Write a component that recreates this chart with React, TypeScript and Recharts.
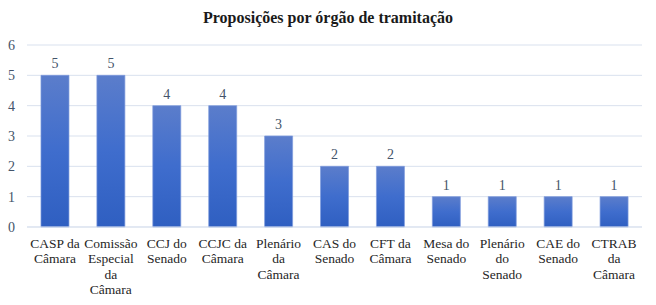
import React from "react";
import { BarChart, Bar, XAxis, YAxis, CartesianGrid, LabelList } from "recharts";

const categories = [
  "CASP da Câmara",
  "Comissão Especial da Câmara",
  "CCJ do Senado",
  "CCJC da Câmara",
  "Plenário da Câmara",
  "CAS do Senado",
  "CFT da Câmara",
  "Mesa do Senado",
  "Plenário do Senado",
  "CAE do Senado",
  "CTRAB da Câmara",
];
const tickLines = [
  ["CASP da", "Câmara"],
  ["Comissão", "Especial", "da", "Câmara"],
  ["CCJ do", "Senado"],
  ["CCJC da", "Câmara"],
  ["Plenário", "da", "Câmara"],
  ["CAS do", "Senado"],
  ["CFT da", "Câmara"],
  ["Mesa do", "Senado"],
  ["Plenário", "do", "Senado"],
  ["CAE do", "Senado"],
  ["CTRAB", "da", "Câmara"],
];
const values = [5, 5, 4, 4, 3, 2, 2, 1, 1, 1, 1];
const yTicks = [0, 1, 2, 3, 4, 5, 6];
const title = "Proposições por órgão de tramitação";

const data = categories.map((c, i) => ({ name: c, value: values[i], idx: i }));

const FONT = "Liberation Serif";

const XTick = (props: any) => {
  const { x, y, index } = props;
  const lines = tickLines[index] || [];
  return (
    <g>
      {lines.map((l: string, i: number) => (
        <text
          key={i}
          x={x}
          y={y + 9.5 + i * 15.5}
          textAnchor="middle"
          dominantBaseline="middle"
          style={{ fontFamily: FONT, fontSize: 13.5 }}
          fill="#262626"
        >
          {l}
        </text>
      ))}
    </g>
  );
};

export default function App() {
  return (
    <div style={{ position: "absolute", left: 0, top: 0, width: 656, height: 305, background: "#fff", fontFamily: FONT }}>
      <svg width={656} height={30} style={{ position: "absolute", left: 0, top: 0 }}>
        <text
          x={328}
          y={19}
          textAnchor="middle"
          dominantBaseline="middle"
          style={{ fontFamily: FONT, fontWeight: "bold", fontSize: 16 }}
          fill="#1a1a1a"
        >
          {title}
        </text>
      </svg>
      <div style={{ position: "absolute", left: 0, top: 0 }}>
        <BarChart
          width={656}
          height={305}
          data={data}
          margin={{ top: 45, right: 14, bottom: 0, left: 0 }}
          barCategoryGap="25%"
          style={{ fontFamily: FONT }}
        >
          <defs>
            <linearGradient id="barGrad" x1="0" y1="0" x2="0" y2="1">
              <stop offset="0%" stopColor="#5B7DCB" />
              <stop offset="50%" stopColor="#3F6DCD" />
              <stop offset="100%" stopColor="#2F5FC1" />
            </linearGradient>
          </defs>
          <CartesianGrid vertical={false} stroke="#D9E1EE" strokeWidth={1} />
          <XAxis
            dataKey="name"
            interval={0}
            tick={<XTick />}
            tickLine={false}
            axisLine={{ stroke: "#D9E1EE" }}
            height={78}
          />
          <YAxis
            domain={[0, 6]}
            ticks={yTicks}
            axisLine={false}
            tickLine={false}
            width={27}
            tickMargin={6}
            tick={{ style: { fontFamily: FONT }, fontSize: 14, fill: "#44546A" }}
          />
          <Bar dataKey="value" fill="url(#barGrad)" stroke="#7E9BDC" strokeWidth={0.7} isAnimationActive={false}>
            <LabelList
              dataKey="value"
              position="top"
              offset={7}
              style={{ fontFamily: FONT, fontSize: 14, fill: "#44546A" }}
            />
          </Bar>
        </BarChart>
      </div>
    </div>
  );
}
